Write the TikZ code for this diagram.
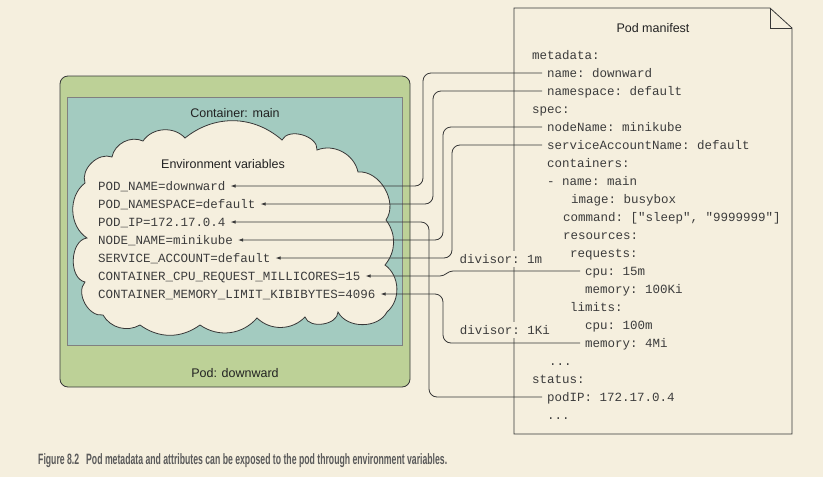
\documentclass[tikz,border=0pt]{standalone}
\usepackage{fontspec}
\usepackage{graphicx}
\setmainfont{Liberation Sans}
\setmonofont{Liberation Mono}
\usetikzlibrary{arrows.meta, positioning}

\definecolor{paper}{RGB}{245,239,222}
\definecolor{podgreen}{RGB}{189,209,151}
\definecolor{boxteal}{RGB}{163,203,192}
\definecolor{ink}{RGB}{55,55,55}
\definecolor{textdark}{RGB}{34,34,34}
\definecolor{monotext}{RGB}{60,60,60}
\definecolor{captiongray}{RGB}{90,90,90}

\begin{document}
\begin{tikzpicture}[
    x=1pt, y=-1pt,
    font=\fontsize{12.5}{15}\selectfont,
    text=textdark,
    mono/.style={
        font=\fontsize{12.5}{15}\selectfont\ttfamily,
        text=monotext,
        inner sep=0pt,
        outer xsep=5pt,
        outer ysep=0pt,
        text height=8pt,
        text depth=0pt,
        anchor=west
    },
    heading/.style={inner sep=0pt},
    divisor/.style={mono, fill=paper, inner xsep=2pt, inner ysep=4pt, outer sep=0pt, anchor=center},
    link/.style={<-, draw=ink, line width=0.8pt, rounded corners=8pt, >={Latex[length=5pt,width=3.5pt]}},
    caption/.style={font=\fontsize{15}{17}\selectfont\bfseries, text=captiongray, inner sep=0pt, anchor=west}
]

    % Background and page size
    \fill[paper] (0,0) rectangle (823,477);
    \useasboundingbox (0,0) rectangle (823,477);

    % 1. Pod and container (left)
    \node (pod) [rectangle, rounded corners=8pt, draw=ink, fill=podgreen, line width=0.8pt,
        minimum width=350pt, minimum height=311pt] at (235,231.5) {};
    \node (main) [rectangle, draw=gray, fill=boxteal, line width=0.8pt,
        minimum width=335pt, minimum height=248pt] at (234.5,221) {};
    \node (main-title) [heading] at (235,113) {Container: main};
    \node (pod-title) [heading] at (235,373) {Pod: downward};

    % 2. Environment variables cloud
    \draw[ink, fill=paper, line width=0.8pt]
        (85,183) to[bend left=65] (112,157) to[bend left=52] (143,141)
        to[bend left=52] (185,138) to[bend left=40] (282,140)
        to[bend left=80] (317,150) to[bend left=50] (358,172)
        to[bend left=65] (386,220) to[bend left=38] (385,265)
        to[bend left=52] (387,312) to[bend left=62] (338,312)
        to[bend left=80] (305,317) to[bend left=45] (257,318)
        to[bend left=42] (200,325) to[bend left=36] (140,325)
        to[bend left=45] (103,315) to[bend left=70] (85,282)
        to[bend left=80] (87,238) to[bend left=55] (85,183) -- cycle;
    \node (env-title) [heading] at (223,164) {Environment variables};

    \node (e-name) [mono] at (93,186) {POD\_NAME=downward};
    \node (e-ns) [mono, below right=10pt and 0pt of e-name.south west] {POD\_NAMESPACE=default};
    \node (e-ip) [mono, below right=10pt and 0pt of e-ns.south west] {POD\_IP=172.17.0.4};
    \node (e-node) [mono, below right=10pt and 0pt of e-ip.south west] {NODE\_NAME=minikube};
    \node (e-sa) [mono, below right=10pt and 0pt of e-node.south west] {SERVICE\_ACCOUNT=default};
    \node (e-cpu) [mono, below right=10pt and 0pt of e-sa.south west] {CONTAINER\_CPU\_REQUEST\_MILLICORES=15};
    \node (e-mem) [mono, below right=10pt and 0pt of e-cpu.south west] {CONTAINER\_MEMORY\_LIMIT\_KIBIBYTES=4096};

    % 3. Pod manifest (right)
    \draw[ink, fill=paper, line width=0.8pt] (514,8) -- (770,8) -- (792,28) -- (792,434) -- (514,434) -- cycle;
    \draw[ink, line width=0.8pt] (770,8) -- (770,28) -- (792,28);
    \node (manifest-title) [heading] at (653,28) {Pod manifest};

    \node (m-meta) [mono] at (527,55) {metadata:};
    \node (m-name) [mono, below right=10pt and 15pt of m-meta.south west] {name: downward};
    \node (m-ns) [mono, below right=10pt and 0pt of m-name.south west] {namespace: default};
    \node (m-spec) [mono, below right=10pt and -15pt of m-ns.south west] {spec:};
    \node (m-node) [mono, below right=10pt and 15pt of m-spec.south west] {nodeName: minikube};
    \node (m-sa) [mono, below right=10pt and 0pt of m-node.south west] {serviceAccountName: default};
    \node (m-containers) [mono, below right=10pt and 0pt of m-sa.south west] {containers:};
    \node (m-cname) [mono, below right=10pt and 0pt of m-containers.south west] {- name: main};
    \node (m-image) [mono, below right=10pt and 24pt of m-cname.south west] {image: busybox};
    \node (m-command) [mono, below right=10pt and -8pt of m-image.south west] {command: ["sleep", "9999999"]};
    \node (m-res) [mono, below right=10pt and 0pt of m-command.south west] {resources:};
    \node (m-req) [mono, below right=10pt and 7pt of m-res.south west] {requests:};
    \node (m-cpu) [mono, below right=10pt and 15pt of m-req.south west] {cpu: 15m};
    \node (m-mem) [mono, below right=10pt and 0pt of m-cpu.south west] {memory: 100Ki};
    \node (m-lim) [mono, below right=10pt and -15pt of m-mem.south west] {limits:};
    \node (m-cpu2) [mono, below right=10pt and 15pt of m-lim.south west] {cpu: 100m};
    \node (m-mem2) [mono, below right=10pt and 0pt of m-cpu2.south west] {memory: 4Mi};
    \node (m-dots) [mono, below right=10pt and -36pt of m-mem2.south west] {...};
    \node (m-status) [mono, below right=10pt and -17pt of m-dots.south west] {status:};
    \node (m-ip) [mono, below right=10pt and 15pt of m-status.south west] {podIP: 172.17.0.4};
    \node (m-dots2) [mono, below right=10pt and 0pt of m-ip.south west] {...};

    % Divisor labels
    \node (div-cpu) [divisor] at (501,259) {divisor: 1m};
    \node (div-mem) [divisor] at (505,330) {divisor: 1Ki};

    % Connectors
    \coordinate (bus-name) at (423,0);
    \coordinate (bus-ip) at (429,0);
    \coordinate (bus-ns) at (433,0);
    \coordinate (bus-cpu) at (440,0);
    \coordinate (bus-node) at (443,0);
    \coordinate (bus-sa) at (452,0);
    \coordinate (bus-mem) at (443,0);

    \draw[link] (e-name.east) -| (bus-name |- m-name.west) -- (m-name.west);
    \draw[link] (e-ns.east) -| (bus-ns |- m-ns.west) -- (m-ns.west);
    \draw[link] (e-ip.east) -| (bus-ip |- m-ip.west) -- (m-ip.west);
    \draw[link] (e-node.east) -| (bus-node |- m-node.west) -- (m-node.west);
    \draw[link] (e-sa.east) -| (bus-sa |- m-sa.west) -- (m-sa.west);
    \draw[link, sharp corners] (e-cpu.east) -- (bus-cpu |- e-cpu.east)
        to[out=0, in=180] ([xshift=13pt]bus-cpu |- m-cpu.west) -- (m-cpu.west);
    \draw[link] (e-mem.east) -| (bus-mem |- m-mem2.west) -- (m-mem2.west);

    % Caption
    \node (fig-num) [caption] at (38,461) {\resizebox{41pt}{\height}{Figure 8.2}};
    \node (fig-text) [caption] at (86,461) {\resizebox{361pt}{\height}{Pod metadata and attributes can be exposed to the pod through environment variables.}};

\end{tikzpicture}
\end{document}
